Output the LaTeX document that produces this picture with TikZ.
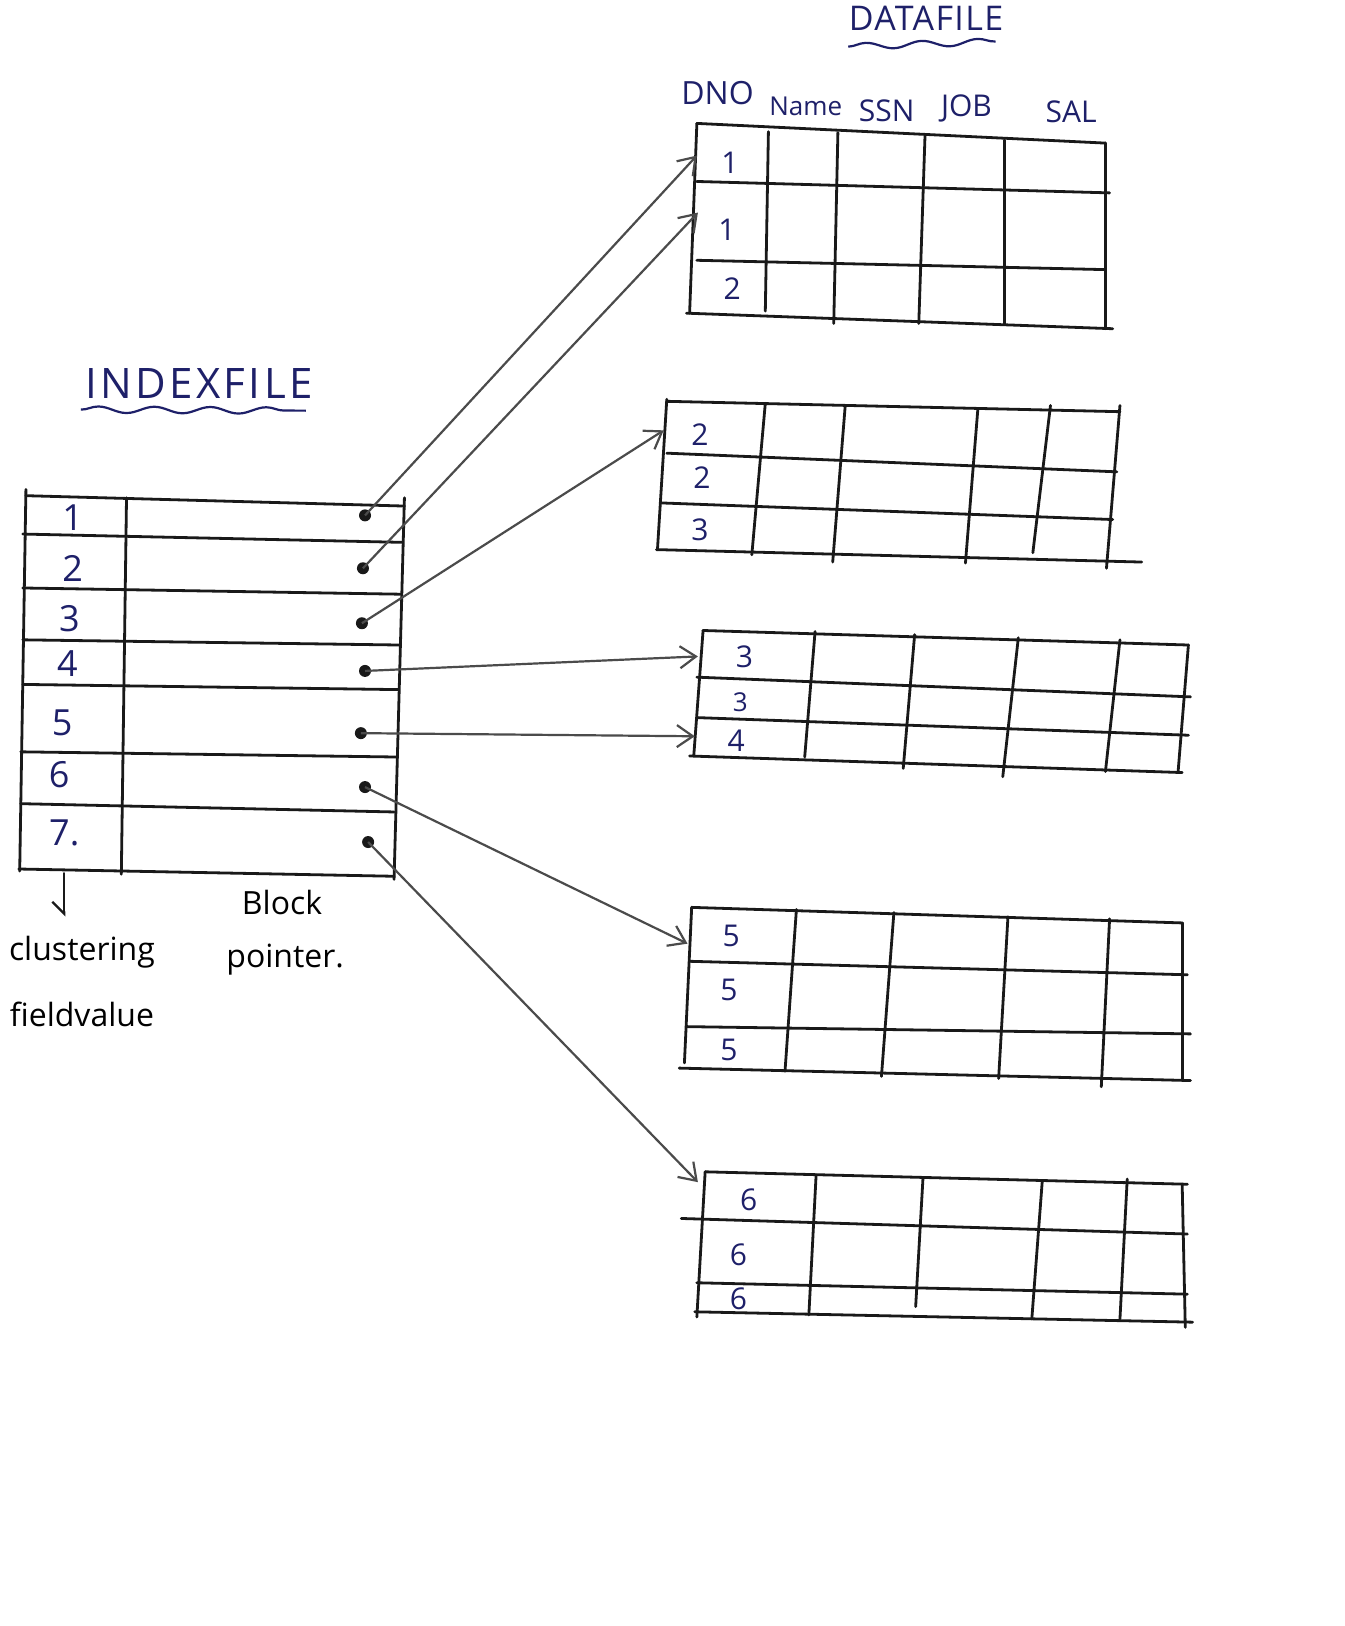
\documentclass[tikz,border=0pt]{standalone}
\usepackage{fontspec}
\setmainfont{Open Sans}
\usetikzlibrary{arrows.meta,decorations.pathmorphing}
\definecolor{ink}{RGB}{30,32,105}
\definecolor{pen}{RGB}{25,25,25}
\definecolor{ptrc}{RGB}{75,75,75}
\begin{document}
\begin{tikzpicture}[x=0.5185pt,y=-0.5185pt,
  tl/.style={line width=1.4pt,draw=pen,line cap=round},
  lbl/.style={text=ink,inner sep=0pt,font=\fontsize{15}{15}\selectfont},
  idx/.style={text=ink,inner sep=0pt,font=\fontsize{18}{18}\selectfont},
  hdr/.style={text=ink,inner sep=0pt,font=\fontsize{15}{15}\selectfont},
  ttl/.style={text=ink,inner sep=0pt,font=\fontsize{21}{21}\selectfont\addfontfeatures{LetterSpace=8}},
  note/.style={text=black,inner sep=0pt,font=\fontsize{16}{16}\selectfont},
  wavy/.style={draw=ink,line width=1.1pt,decorate,decoration={snake,segment length=28pt,amplitude=1.6pt}},
  dot/.style={circle,fill=pen,inner sep=0pt,minimum size=6pt},
  ptr/.style={draw=ptrc,line width=1.1pt,-{Straight Barb[length=8pt,width=11pt,line width=1.1pt]}}]

\useasboundingbox[fill=white] (0,0) rectangle (1297,1568);

% ---------- titles ----------
\node[ttl] (tindex) at (192,370) {INDEXFILE};
\draw[wavy] (78,395) -- (295,396);
\node[ttl,font=\fontsize{17}{17}\selectfont\addfontfeatures{LetterSpace=4}] (tdata) at (893,18) {DATAFILE};
\draw[wavy] (818,45) -- (960,40);

% ---------- index file ----------
\draw[tl] (25,472) -- (19,840);
\draw[tl] (390,480) -- (380,848);
\draw[tl] (122,480) -- (117,843);
\draw[tl] (25,478) -- (390,488);
\draw[tl] (22,515) -- (388,523);
\draw[tl] (22,567) -- (386,573);
\draw[tl] (22,617) -- (385,622);
\draw[tl] (22,660) -- (384,665);
\draw[tl] (20,725) -- (382,730);
\draw[tl] (20,775) -- (380,783);
\draw[tl] (18,838) -- (380,845);

\node[idx] (i1) at (70,499) {1};
\node[idx] (i2) at (70,548) {2};
\node[idx] (i3) at (67,597) {3};
\node[idx] (i4) at (65,640) {4};
\node[idx] (i5) at (60,697) {5};
\node[idx] (i6) at (57,747) {6};
\node[idx] (i7) at (62,803) {7.};

\node[dot] (d1) at (352,497) {};
\node[dot] (d2) at (350,548) {};
\node[dot] (d3) at (349,601) {};
\node[dot] (d4) at (352,647) {};
\node[dot] (d5) at (348,707) {};
\node[dot] (d6) at (352,759) {};
\node[dot] (d7) at (355,812) {};

% ---------- notes ----------
\coordinate (c0) at (62,842);
\coordinate (c1) at (62,884);
\draw[tl,line width=1.2pt,-{Straight Barb[right,length=6pt,width=12pt,line width=1.2pt]}] (c0) -- (c1);
\node[note] (n1) at (79,918) {clustering};
\node[note] (n2) at (79,978) {fieldvalue};
\node[note] (n3) at (272,870) {Block};
\node[note] (n4) at (275,925) {pointer.};

% ---------- data file headers ----------
\node[hdr,font=\fontsize{16}{16}\selectfont] (h1) at (692,90) {DNO};
\node[hdr,font=\fontsize{13}{13}\selectfont] (h2) at (777,103) {Name};
\node[hdr] (h3) at (855,107) {SSN};
\node[hdr] (h4) at (932,105) {JOB};
\node[hdr] (h5) at (1033,108) {SAL};

% ---------- block 1 ----------
\draw[tl] (672,119) -- (1066,138);
\draw[tl] (672,175) -- (1070,186);
\draw[tl] (672,251) -- (1066,260);
\draw[tl] (662,302) -- (1073,317);
\draw[tl] (672,119) -- (665,302);
\draw[tl] (741,127) -- (738,300);
\draw[tl] (808,128) -- (804,312);
\draw[tl] (892,131) -- (886,312);
\draw[tl] (969,135) -- (969,313);
\draw[tl] (1066,138) -- (1066,317);
\node[lbl] (a1) at (704,157) {1};
\node[lbl] (a2) at (701,222) {1};
\node[lbl] (a3) at (706,278) {2};

% ---------- block 2 ----------
\draw[tl] (643,387) -- (1080,397);
\draw[tl] (643,437) -- (1077,455);
\draw[tl] (638,485) -- (1073,501);
\draw[tl] (633,530) -- (1101,542);
\draw[tl] (643,385) -- (634,530);
\draw[tl] (738,389) -- (725,535);
\draw[tl] (815,392) -- (803,542);
\draw[tl] (943,394) -- (931,543);
\draw[tl] (1013,391) -- (996,533);
\draw[tl] (1080,391) -- (1067,548);
\node[lbl] (b1) at (675,419) {2};
\node[lbl] (b2) at (677,461) {2};
\node[lbl] (b3) at (675,511) {3};

% ---------- block 3 ----------
\draw[tl] (678,608) -- (1146,622);
\draw[tl] (672,653) -- (1148,672);
\draw[tl] (672,692) -- (1146,709);
\draw[tl] (665,729) -- (1140,745);
\draw[tl] (678,608) -- (669,729);
\draw[tl] (786,609) -- (776,730);
\draw[tl] (882,612) -- (871,741);
\draw[tl] (982,615) -- (967,749);
\draw[tl] (1080,617) -- (1066,744);
\draw[tl] (1146,622) -- (1136,745);
\node[lbl] (c31) at (718,633) {3};
\node[lbl,font=\fontsize{13}{13}\selectfont] (c32) at (714,677) {3};
\node[lbl] (c33) at (710,714) {4};

% ---------- block 4 ----------
\draw[tl] (667,875) -- (1140,890);
\draw[tl] (665,927) -- (1145,940);
\draw[tl] (662,990) -- (1148,997);
\draw[tl] (655,1030) -- (1148,1042);
\draw[tl] (667,875) -- (660,1025);
\draw[tl] (768,877) -- (757,1033);
\draw[tl] (862,880) -- (850,1038);
\draw[tl] (972,884) -- (963,1040);
\draw[tl] (1070,886) -- (1062,1048);
\draw[tl] (1140,890) -- (1140,1042);
\node[lbl] (e1) at (705,903) {5};
\node[lbl] (e2) at (703,955) {5};
\node[lbl] (e3) at (703,1012) {5};

% ---------- block 5 ----------
\draw[tl] (680,1130) -- (1145,1142);
\draw[tl] (657,1175) -- (1145,1190);
\draw[tl] (672,1237) -- (1145,1248);
\draw[tl] (670,1265) -- (1150,1275);
\draw[tl] (680,1130) -- (672,1270);
\draw[tl] (787,1133) -- (780,1268);
\draw[tl] (890,1137) -- (883,1260);
\draw[tl] (1005,1140) -- (995,1272);
\draw[tl] (1087,1137) -- (1080,1272);
\draw[tl] (1140,1142) -- (1143,1280);
\node[lbl] (f1) at (722,1157) {6};
\node[lbl] (f2) at (712,1210) {6};
\node[lbl] (f3) at (712,1252) {6};

% ---------- pointers ----------
\coordinate (t1) at (672,150);
\coordinate (t2) at (673,205);
\coordinate (t3) at (640,415);
\coordinate (t4) at (673,633);
\coordinate (t5) at (670,710);
\coordinate (t6) at (663,910);
\coordinate (t7) at (673,1140);
\draw[ptr] (d1.center) -- (t1);
\draw[ptr] (d2.center) -- (t2);
\draw[ptr] (d3.center) -- (t3);
\draw[ptr] (d4.center) -- (t4);
\draw[ptr] (d5.center) -- (t5);
\draw[ptr] (d6.center) -- (t6);
\draw[ptr] (d7.center) -- (t7);
\end{tikzpicture}
\end{document}
